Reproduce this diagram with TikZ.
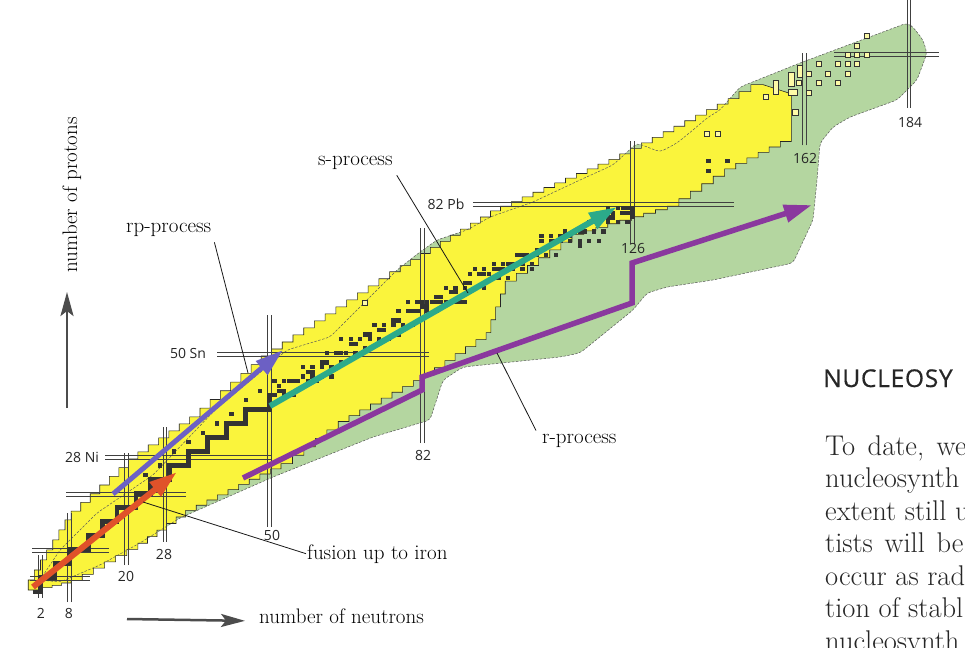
\documentclass[tikz,border=0pt]{standalone}
\usepackage{fontspec}
\newfontfamily\tagfont{Open Sans}
\newfontfamily\headfont[LetterSpace=3,FakeBold=0.5]{Open Sans}
\usetikzlibrary{arrows.meta,positioning}

\definecolor{chartyellow}{RGB}{250,244,60}
\definecolor{chartgreen}{RGB}{180,214,160}
\definecolor{fusionred}{RGB}{224,82,42}
\definecolor{rpblue}{RGB}{108,96,196}
\definecolor{steal}{RGB}{44,170,138}
\definecolor{rviolet}{RGB}{138,56,158}

\tikzset{
  magic/.style={black!75, line width=0.45pt},
  stable/.style={fill=black!80},
  hollow/.style={draw=black!80, fill=chartyellow!45, line width=0.5pt},
  tag/.style={font=\tagfont\fontsize{14}{16}\selectfont, text=black!85, inner sep=0pt},
  proc/.style={font=\fontsize{21}{25}\selectfont, inner sep=1pt, anchor=base west},
  callout/.style={black!90, line width=0.8pt},
  flow/.style={line width=5pt, -{Triangle[length=28pt,width=17pt]}},
  axis/.style={black!70, line width=2.5pt, -{Stealth[length=24pt,width=13pt,inset=5pt]}},
  bodytext/.style={font=\fontsize{28.5}{32}\selectfont, text=black!85, anchor=base west, inner sep=0pt},
}

\def\greenzone{(40,580) -- (60,550) -- (97,513) -- (153,475) -- (215,410) -- (287,350) -- (330,337) -- (387,280) -- (397,270) -- (420,252) -- (437,240) -- (467,230) -- (490,217) -- (533,202) -- (580,180) -- (613,165) -- (637,143) -- (660,152) -- (677,143) -- (693,130) -- (707,118) -- (720,110) -- (740,87) -- (800,63) -- (907,23) -- (913,27) -- (923,40) -- (927,53) -- (917,80) -- (897,100) -- (850,117) -- (833,127) -- (820,143) -- (817,180) -- (813,220) -- (793,263) -- (713,280) -- (667,287) -- (647,293) -- (633,310) -- (580,353) -- (560,357) -- (463,367) -- (443,380) -- (430,420) -- (373,437) -- (273,477) -- (180,518) -- (140,543) -- (100,565) -- (60,582) -- cycle}

\begin{document}
\begin{tikzpicture}[x=1pt, y=-1pt]
\useasboundingbox (0,0) rectangle (965,647);
\fill[white] (0,0) rectangle (965,647);

% theoretical limits
\fill[chartgreen, rounded corners=4pt] \greenzone;

\begin{scope}[shift={(33,590)}, x=4.77pt, y=4.68pt]
% known nuclei
\filldraw[fill=chartyellow, draw=black!85, line width=0.6pt] (-1,0)
  \foreach \dn/\dz/\k in {9/15/7, 14/13/7, 13/9/6, 15/13/7, 27/18/12, 21/13/10, 25/11/11, 25/13/11, 5/3/2}
    {\foreach \i in {1,...,\k}{ -- ++(0,\dz/\k) -- ++(\dn/\k,0)}}
  -- (159,106) -- (159,97)
  \foreach \dn/\dz/\k in {-14/-7/6, -12/-8/5, -20/-6/8, -14/-10/6, -4/-11/4, -13/-9/6, -18/-10/8, -12/-9/5, -20/-10/9, -10/-7/5, -14/-8/6, -8/-2/4}
    {\foreach \i in {1,...,\k}{ -- ++(0,\dz/\k) -- ++(\dn/\k,0)}}
  -- cycle;
\end{scope}

\draw[black!65, line width=0.5pt, dash pattern=on 2.5pt off 1.5pt, rounded corners=4pt] \greenzone;

\begin{scope}[shift={(33,590)}, x=4.77pt, y=4.68pt]
% magic numbers
\foreach \n/\lo/\hi in {2/-1.7/7.5, 8/-2.6/16.5, 20/5.3/29.3, 28/10.3/34.8, 50/13.5/58.8, 82/31.4/77.4, 126/74/96, 162/95/114.7, 184/103/126}
  \draw[magic] (\n-0.8,\lo) -- (\n-0.8,\hi) (\n,\lo) -- (\n,\hi);
\foreach \z/\lo/\hi in {2/-0.6/12, 8/-0.2/16, 20/7/32, 28/15.1/50, 50/38.6/83, 82/92.2/147, 114/168/190}
  \draw[magic] (\lo,\z) -- (\hi,\z) (\lo,\z+0.85) -- (\hi,\z+0.85);

% stable nuclei
\foreach \n in {1,...,50}{
  \pgfmathtruncatemacro\z{3*round(\n/(1+0.0044*\n)/3)}
  \pgfmathtruncatemacro\zp{3*round((\n-1)/(1+0.0044*(\n-1))/3)}
  \fill[stable] (\n-0.9,\zp-0.9) rectangle (\n+0.1,\z+0.1);
}
\foreach \n in {24,27,...,48}{
  \pgfmathtruncatemacro\z{round(\n/(1+0.0044*\n))+3}
  \fill[stable] (\n-0.85,\z-0.85) rectangle ++(0.9,0.9);
}
\foreach \n in {51,...,126}{
  \pgfmathtruncatemacro\z{round(\n/(1+0.0044*\n))+mod(\n*7,5)-2}
  \fill[stable] (\n-0.85,\z-0.85) rectangle ++(0.9,0.9);
}
\foreach \n in {51,53,...,125}{
  \pgfmathtruncatemacro\z{round(\n/(1+0.0044*\n))+mod(\n*3,7)-3}
  \fill[stable] (\n-0.85,\z-0.85) rectangle ++(0.9,0.9);
}
\foreach \n in {52,55,...,124}{
  \pgfmathtruncatemacro\z{round(\n/(1+0.0044*\n))+mod(\n*5,3)-1}
  \fill[stable] (\n-0.85,\z-0.85) rectangle ++(1.9,0.9);
}
\fill[stable] (123.2,81.2) rectangle (126.1,82.1);
\fill[stable] (125.2,79.2) rectangle (126.1,82.1);
\foreach \n/\z in {142/92, 146/92, 142/90}
  \fill[stable] (\n-0.85,\z-0.85) rectangle ++(0.9,0.9);
\end{scope}

% superheavy island
\foreach \x/\y in {867/36, 857/46, 848/55, 857/55, 867/55, 819/64, 838/64, 848/64, 857/64, 809/74, 828/74, 848/74, 799/83, 819/83, 838/83, 809/93, 766/97, 707/134, 718/134, 365/303}
  \filldraw[hollow] (\x-2.5,\y-2.5) rectangle ++(5,5);
\filldraw[hollow] (797,65) rectangle (802,77);
\filldraw[hollow] (788,72) rectangle (794,86);
\filldraw[hollow] (773,80) rectangle (778,94);
\filldraw[hollow] (788,89) rectangle (797,95);
\filldraw[hollow] (792,109) rectangle (798,115);

% processes
\coordinate (fusA) at (33,587);
\coordinate (fusB) at (177,472);
\coordinate (rpA) at (113,494);
\coordinate (rpB) at (283,350);
\coordinate (sA) at (270,406);
\coordinate (sB) at (617,207);
\coordinate (rA) at (243,478);
\coordinate (rB) at (422,390);
\coordinate (rC) at (422,377);
\coordinate (rD) at (632,303);
\coordinate (rE) at (632,263);
\coordinate (rF) at (812,205);
\draw[flow, fusionred, line width=6pt] (fusA) -- (fusB);
\draw[flow, rpblue, line width=5pt] (rpA) -- (rpB);
\draw[flow, steal, line width=6pt] (sA) -- (sB);
\draw[flow, rviolet, line width=5.5pt] (rA) -- (rB) -- (rC) -- (rD) -- (rE) -- (rF);

% magic labels
\node[tag] (m2) at (41,613) {2};
\node[tag] (m8) at (69,613) {8};
\node[tag] (m20) at (126,576) {20};
\node[tag] (m28) at (164,554) {28};
\node[tag] (m50) at (272,535) {50};
\node[tag] (m82) at (423,455) {82};
\node[tag] (m126) at (633,248) {126};
\node[tag] (m162) at (805,158) {162};
\node[tag] (m184) at (910,122) {184};
\node[tag] (ni) at (82,457) {28 Ni};
\node[tag] (sn) at (188,353) {50 Sn};
\node[tag] (pb) at (446,204) {82 Pb};

% callouts
\node[proc] (rplabel) at (125,232) {rp-process};
\node[proc] (slabel) at (317,165) {s-process};
\node[proc] (rlabel) at (541,443) {r-process};
\node[proc] (fuslabel) at (306,559) {fusion up to iron};
\coordinate (rptip) at (248,373);
\coordinate (stip) at (468,293);
\coordinate (rtip) at (497,353);
\coordinate (fustip) at (143,502);
\draw[callout] ([xshift=2pt,yshift=-5pt]rplabel.south east) -- (rptip);
\draw[callout] ([xshift=3pt,yshift=-5pt]slabel.south east) -- (stip);
\draw[callout] ([xshift=-5pt,yshift=2pt]rlabel.north west) -- (rtip);
\draw[callout] (fuslabel.west) -- (fustip);

% axes
\node[font=\fontsize{21}{25}\selectfont, rotate=90, anchor=base, inner sep=1pt] (protlabel) at (77,195) {number of protons};
\node[proc] (neulabel) at (258,623) {number of neutrons};
\coordinate (protail) at (67,408);
\coordinate (protip) at (67,292);
\coordinate (neutail) at (127,619);
\draw[axis] (protail) -- (protip);
\draw[axis] (neutail) -- ([xshift=-13pt]neulabel.mid west);

% page text
\begin{scope}
\clip (0,0) rectangle (965,647);
\node[anchor=base west, inner sep=0pt, text=black!85, font=\headfont\fontsize{24.5}{30}\selectfont] (head) at (823,387) {NUCLEOSY};
\node[bodytext] (l1) at (825,455) {To\hspace{4pt} date,\hspace{4pt} we};
\node[bodytext] (l2) at (825,487) {nucleosynth};
\node[bodytext] (l3) at (825,520) {extent still u};
\node[bodytext] (l4) at (825,552) {tists\hspace{3pt} will\hspace{3pt} be};
\node[bodytext] (l5) at (825,585) {occur as rad};
\node[bodytext] (l6) at (825,617) {tion of stabl};
\node[bodytext] (l7) at (825,650) {nucleosynth};
\end{scope}
\end{tikzpicture}
\end{document}
